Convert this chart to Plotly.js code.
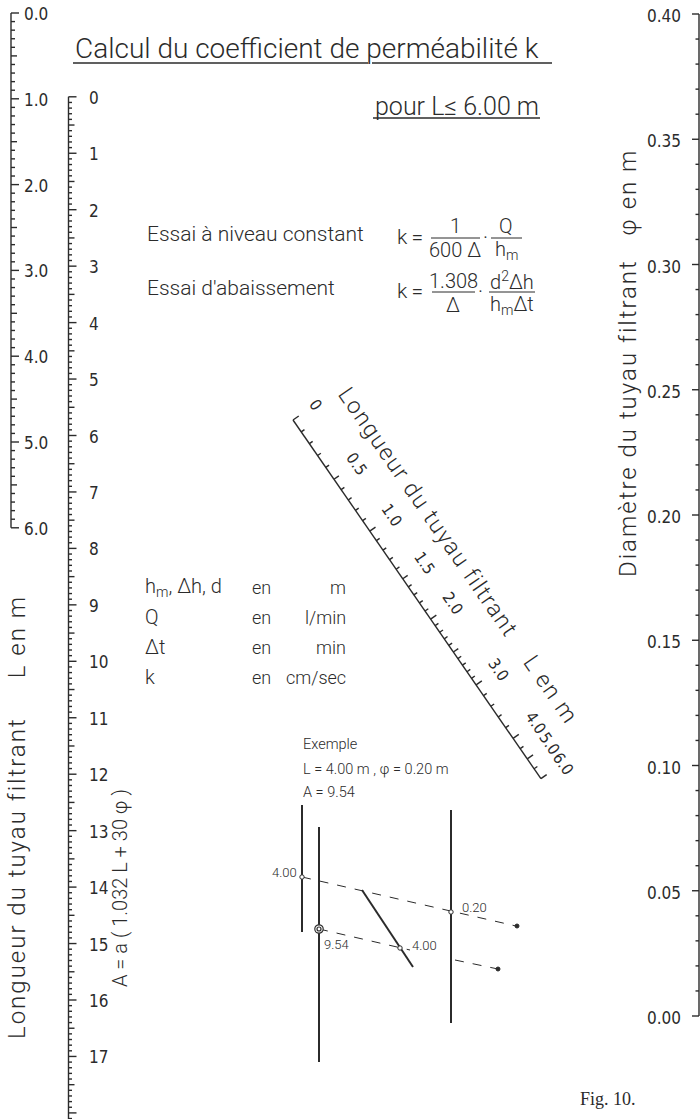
<!DOCTYPE html>
<html><head><meta charset="utf-8">
<script src="https://cdn.plot.ly/plotly-3.0.1.min.js"></script>
<style>html,body{margin:0;padding:0;background:#fff}</style>
</head><body><div id="chart" style="width:700px;height:1119px"></div>
<script>
// ---------------- data ----------------
const lengthValues = [0, 1, 2, 3, 4, 5, 6];
const lengthLabels = ["0.0", "1.0", "2.0", "3.0", "4.0", "5.0", "6.0"];
const areaValues = [0,1,2,3,4,5,6,7,8,9,10,11,12,13,14,15,16,17];
const areaLabels = ["0","1","2","3","4","5","6","7","8","9","10","11","12","13","14","15","16","17"];
const diameterValues = [0.40, 0.35, 0.30, 0.25, 0.20, 0.15, 0.10, 0.05, 0.00];
const diameterLabels = ["0.40","0.35","0.30","0.25","0.20","0.15","0.10","0.05","0.00"];
const diagLengthValues = [0, 0.5, 1.0, 1.5, 2.0, 3.0, 4.0, 5.0, 6.0];
const diagLengthLabels = ["0", "0.5", "1.0", "1.5", "2.0", "3.0", "4.0", "5.0", "6.0"];
const exampleL = "4.00", examplePhi = "0.20", exampleA = "9.54";

// ---------------- scale geometry ----------------
const INK = "#2b2b2b";
const NUMFONT = "Liberation Sans Narrow, DejaVu Sans Condensed, Roboto, sans-serif";
const TXTFONT = "Roboto, Liberation Sans, sans-serif";
const W = 300;
const Lscale = {x: 11, y: v => 13 + 85.8 * v};
const Ascale = {x: 68.5, y: v => 96.8 + 56.45 * v};
const Pscale = {x: 699, y: v => 1016 - 2505 * v};
// diagonal L scale (nomographic calibration along the line)
const D0 = [293, 420], U = [0.5686, 0.8226], N = [0.8226, -0.5686];
const diagCal = {v: [0, 0.5, 1.0, 1.5, 2.0, 3.0, 4.0, 5.0, 6.0], t: [0, 72, 135, 193, 242, 322, 387, 412, 436]};
function diagT(v) {
  const a = diagCal.v, b = diagCal.t;
  for (let i = 0; i < a.length - 1; i++) if (v <= a[i + 1] + 1e-9) return b[i] + (v - a[i]) / (a[i + 1] - a[i]) * (b[i + 1] - b[i]);
  return b[b.length - 1];
}
function diagP(v, off) { const t = diagT(v); off = off || 0; return [D0[0] + U[0] * t + N[0] * off, D0[1] + U[1] * t + N[1] * off]; }

const traces = [];
function segTrace(segs, width) {
  const x = [], y = [];
  segs.forEach(s => { x.push(s[0], s[2], null); y.push(s[1], s[3], null); });
  traces.push({type: "scatter", mode: "lines", x, y, line: {color: INK, width: width}, hoverinfo: "skip"});
}
const ann = [];
function txt(x, y, text, size, opts, fam) {
  ann.push(Object.assign({x, y, xref: "x", yref: "y", text, showarrow: false,
    font: {family: fam || TXTFONT, size: size, color: INK, weight: W}, xanchor: "center", yanchor: "middle"}, opts || {}));
}
function spaced(s, ls) { return '<span style="letter-spacing:' + ls + 'px">' + s + '</span>'; }

// left L scale
(function () {
  const segs = [[Lscale.x, Lscale.y(0), Lscale.x, Lscale.y(6)]];
  for (let i = 0; i <= 60; i++) {
    const v = i / 10, len = i % 10 === 0 ? 8 : (i % 5 === 0 ? 6 : 4);
    segs.push([Lscale.x, Lscale.y(v), Lscale.x + len, Lscale.y(v)]);
  }
  segTrace(segs, 1.4);
  lengthValues.forEach((v, i) => txt(22, Lscale.y(v) + 1, lengthLabels[i], 17, {xanchor: "left"}, NUMFONT));
})();
// A scale
(function () {
  const segs = [[Ascale.x, Ascale.y(0), Ascale.x, 1119]];
  for (let i = 0; i <= 183; i++) {
    const v = i / 10, len = i % 10 === 0 ? 8 : (i % 5 === 0 ? 6 : 3.5);
    segs.push([Ascale.x, Ascale.y(v), Ascale.x + len, Ascale.y(v)]);
  }
  segTrace(segs, 1.4);
  areaValues.forEach((v, i) => txt(87, Ascale.y(v) + 1, areaLabels[i], 17, {xanchor: "left"}, NUMFONT));
})();
// phi scale
(function () {
  const segs = [[Pscale.x, Pscale.y(0.40), Pscale.x, Pscale.y(0)]];
  for (let i = 0; i <= 40; i++) {
    const v = i / 100, len = i % 5 === 0 ? 7 : 3.5;
    segs.push([Pscale.x, Pscale.y(v), Pscale.x - len, Pscale.y(v)]);
  }
  segTrace(segs, 1.4);
  diameterValues.forEach((v, i) => txt(683, Pscale.y(v) + 2, diameterLabels[i], 17, {xanchor: "right"}, NUMFONT));
})();
// diagonal L scale
(function () {
  const a = diagP(0), b = diagP(6);
  const segs = [[a[0], a[1], b[0], b[1]]];
  const tickVals = [];
  for (let i = 0; i <= 30; i++) tickVals.push([i / 10, i % 10 === 0 ? 7 : (i % 5 === 0 ? 6 : 4)]);
  for (let i = 1; i <= 5; i++) tickVals.push([3 + i / 5, i === 5 ? 7 : 4]);
  tickVals.push([4.5, 4], [5, 7], [5.5, 4], [6, 7]);
  tickVals.forEach(tv => { const p = diagP(tv[0]), q = diagP(tv[0], tv[1]); segs.push([p[0], p[1], q[0], q[1]]); });
  segTrace(segs, 1.4);
  const ang = Math.atan2(U[1], U[0]) * 180 / Math.PI;
  diagLengthValues.forEach((v, i) => { const p = diagP(v, 27); txt(p[0], p[1], diagLengthLabels[i], 16, {textangle: ang}, NUMFONT); });
  const tp = [D0[0] + U[0] * 205 + N[0] * 59, D0[1] + U[1] * 205 + N[1] * 59];
  txt(tp[0], tp[1], spaced("Longueur du tuyau filtrant\u00a0\u00a0\u00a0 L en m", 1.5), 23, {textangle: ang});
})();

// titles
txt(73, 48, "Calcul du coefficient de perméabilité k", 28, {xanchor: "left"});
txt(373, 106, "pour L\u2264 6.00 m", 25, {xanchor: "left"});
txt(17, 817, spaced("Longueur du tuyau filtrant\u00a0\u00a0\u00a0\u00a0 L en m", 2), 24, {textangle: -90});
txt(628, 363, spaced("Diamètre du tuyau filtrant\u00a0\u00a0 φ en m", 2), 24, {textangle: -90});
txt(120, 888, "A = a ( 1.032 L + 30 φ )", 20, {textangle: -90});

// formulas
const F = 21, G = 20;
txt(145, 234, "Essai à niveau constant", F, {xanchor: "left"});
txt(395, 237, "k\u2009=", F, {xanchor: "left"});
txt(455, 226, "1", G); txt(455, 250, "600 Δ", G);
txt(485, 237, "·", G);
txt(506, 226, "Q", G); txt(506, 250, "h<sub>m</sub>", G);
txt(145, 288, "Essai d'abaissement", F, {xanchor: "left"});
txt(395, 291, "k\u2009=", F, {xanchor: "left"});
txt(453, 281, "1.308", G); txt(453, 305, "Δ", G);
txt(480, 291, "·", G);
txt(512, 281, "d<sup>2</sup>Δh", G); txt(512, 305, "h<sub>m</sub>Δt", G);

// units
const U1 = 20, U2 = 18;
const unitRows = [["h<sub>m</sub>, Δh, d", "m", 587], ["Q", "l/min", 617], ["Δt", "min", 647], ["k", "cm/sec", 677]];
unitRows.forEach(r => { txt(143, r[2], r[0], U1, {xanchor: "left"}); txt(250, r[2], "en", U2, {xanchor: "left"}); txt(348, r[2], r[1], U2, {xanchor: "right"}); });

// example
txt(301, 744, "Exemple", 14.5, {xanchor: "left"});
txt(301, 769, "L = " + exampleL + " m , φ = " + examplePhi + " m", 14.5, {xanchor: "left"});
txt(301, 792, "A = " + exampleA, 14.5, {xanchor: "left"});
txt(284, 872, exampleL, 13); txt(474, 907, examplePhi, 13);
txt(336, 944, exampleA, 13); txt(424, 945, exampleL, 13);
txt(578, 1099, "Fig. 10.", 18, {xanchor: "left"}, "Liberation Serif, DejaVu Serif, serif");

const shapes = [];
function ln(x0, y0, x1, y1, w, dash) { shapes.push({type: "line", xref: "x", yref: "y", x0, y0, x1, y1, line: {color: INK, width: w, dash: dash || "solid"}}); }
function circ(cx, cy, r, w, fill) { shapes.push({type: "circle", xref: "x", yref: "y", x0: cx - r, y0: cy - r, x1: cx + r, y1: cy + r, line: {color: INK, width: w}, fillcolor: fill || "white"}); }
// underlines and fraction bars
ln(73, 63, 368, 63, 1.3); ln(372, 63, 552, 63, 1.3);
ln(373, 118, 540, 118, 1.3);
ln(431, 238, 480, 238, 1); ln(491, 238, 522, 238, 1);
ln(432, 292, 475, 292, 1); ln(489, 292, 535, 292, 1);
// example schematic
ln(302, 805, 302, 932, 2); ln(319, 827, 319, 1062, 2);
ln(362, 890, 413, 967, 2); ln(451, 810, 451, 1023, 2);
ln(302, 877, 516, 926, 1, "dash"); ln(319, 929, 410, 950, 1, "dash"); ln(455, 960, 498, 969, 1, "dash");
circ(517, 926, 2, 1, INK); circ(498, 969, 2, 1, INK);
circ(302, 877, 2.2, 1); circ(451, 912, 2.2, 1); circ(400, 948, 2.2, 1);
circ(319, 929, 4.2, 1.2); circ(319, 929, 2, 1.2);

Plotly.newPlot("chart", traces, {
  width: 700, height: 1119, margin: {l: 0, r: 0, t: 0, b: 0},
  paper_bgcolor: "white", plot_bgcolor: "white", showlegend: false,
  xaxis: {range: [0, 700], visible: false, fixedrange: true},
  yaxis: {range: [1119, 0], visible: false, fixedrange: true},
  annotations: ann, shapes: shapes
}, {staticPlot: true, displayModeBar: false});
</script></body></html>
